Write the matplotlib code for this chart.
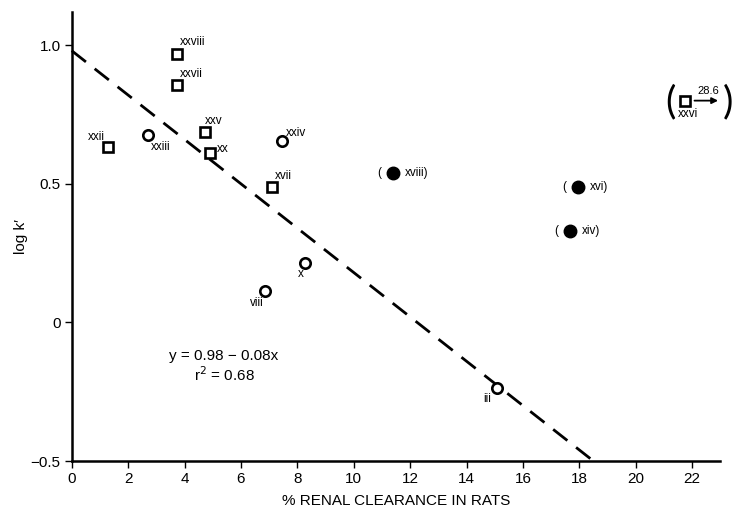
import matplotlib
matplotlib.use("Agg")
import matplotlib.pyplot as plt
from matplotlib.patches import FancyArrowPatch
from matplotlib.transforms import offset_copy
import numpy as np

plt.rcParams['font.family'] = ['Liberation Sans', 'DejaVu Sans']

# Data
sq_labels = ['xxviii', 'xxvii', 'xxii', 'xxv', 'xx', 'xvii']
sq_x = [3.72, 3.72, 1.28, 4.72, 4.89, 7.09]
sq_y = [0.968, 0.856, 0.632, 0.686, 0.61, 0.49]

oc_labels = ['xxiii', 'xxiv', 'x', 'viii', 'iii']
oc_x = [2.70, 7.45, 8.26, 6.84, 15.07]
oc_y = [0.675, 0.653, 0.213, 0.112, -0.238]

fc_labels = ['xviii', 'xvi', 'xiv']
fc_x = [11.38, 17.94, 17.66]
fc_y = [0.54, 0.487, 0.33]

out_label = 'xxvi'
out_x = 21.74
out_y = 0.80
out_value = '28.6'

fit_intercept = 0.98
fit_slope = -0.08
fit_xrange = [0.0, 18.45]

x_ticks = [0, 2, 4, 6, 8, 10, 12, 14, 16, 18, 20, 22]
y_ticks = [-0.5, 0, 0.5, 1.0]
y_ticklabels = ['\u22120.5', '0', '0.5', '1.0']

fig = plt.figure(figsize=(7.32, 5.18), dpi=100)
ax = fig.add_axes([0.098, 0.110, 0.886, 0.867])
ax.set_xlim(0, 23.0)
ax.set_ylim(-0.5, 1.12)

for s in ['top', 'right']:
    ax.spines[s].set_visible(False)
for s in ['left', 'bottom']:
    ax.spines[s].set_linewidth(1.8)

ax.set_xticks(x_ticks)
ax.set_yticks(y_ticks)
ax.set_yticklabels(y_ticklabels)
ax.tick_params(axis='both', direction='out', length=5, width=1.0, labelsize=11, pad=3)

# fit line
fx = np.array(fit_xrange)
ax.plot(fx, fit_intercept + fit_slope * fx, color='black', lw=2.0,
        dashes=(6.5, 4), clip_on=False)

ms = 7.5
ax.plot(sq_x, sq_y, 's', ms=ms, mfc='white', mec='black', mew=1.9, ls='none')
ax.plot(oc_x, oc_y, 'o', ms=ms, mfc='white', mec='black', mew=1.9, ls='none')
ax.plot(fc_x, fc_y, 'o', ms=9, mfc='black', mec='black', ls='none')
ax.plot([out_x], [out_y], 's', ms=ms, mfc='white', mec='black', mew=1.9, ls='none', clip_on=False)

fs = 8.5
sq_off = {'xxviii': (2, 4, 'left', 'bottom'), 'xxvii': (2, 4, 'left', 'bottom'),
          'xxii': (-2, 3, 'right', 'bottom'), 'xxv': (0, 4, 'left', 'bottom'),
          'xx': (5, -1, 'left', 'bottom'), 'xvii': (2, 3, 'left', 'bottom')}
for lab, x, y in zip(sq_labels, sq_x, sq_y):
    dx, dy, ha, va = sq_off[lab]
    ax.annotate(lab, (x, y), xytext=(dx, dy), textcoords='offset points',
                ha=ha, va=va, fontsize=fs)
oc_off = {'xxiii': (2, -4, 'left', 'top'), 'xxiv': (3, 2, 'left', 'bottom'),
          'x': (-1, -3, 'right', 'top'), 'viii': (-1, -4, 'right', 'top'),
          'iii': (-4, -3, 'right', 'top')}
for lab, x, y in zip(oc_labels, oc_x, oc_y):
    dx, dy, ha, va = oc_off[lab]
    ax.annotate(lab, (x, y), xytext=(dx, dy), textcoords='offset points',
                ha=ha, va=va, fontsize=fs)
for lab, x, y in zip(fc_labels, fc_x, fc_y):
    ax.annotate('(', (x, y), xytext=(-8, 0), textcoords='offset points',
                ha='right', va='center', fontsize=fs)
    ax.annotate(lab + ')', (x, y), xytext=(9, 0), textcoords='offset points',
                ha='left', va='center', fontsize=fs)

# outlier annotation (value off scale)
t0 = offset_copy(ax.transData, fig=fig, x=5, y=0, units='points')
t1 = offset_copy(ax.transData, fig=fig, x=26, y=0, units='points')
p0 = t0.transform((out_x, out_y))
p1 = t1.transform((out_x, out_y))
fig.patches.append(FancyArrowPatch(
    p0, p1, transform=None, arrowstyle='-|>', mutation_scale=9, lw=1.3, color='black'))
ax.annotate(out_value, (out_x, out_y), xytext=(9, 3), textcoords='offset points',
            ha='left', va='bottom', fontsize=8, annotation_clip=False)
ax.annotate(out_label, (out_x, out_y), xytext=(2, -5), textcoords='offset points',
            ha='center', va='top', fontsize=fs, annotation_clip=False)
paren_font = dict(family=['Lato', 'DejaVu Sans'], fontweight='normal', fontsize=28)
ax.annotate('(', (out_x, out_y), xytext=(-10, -1), textcoords='offset points',
            ha='center', va='center', annotation_clip=False, **paren_font)
ax.annotate(')', (out_x, out_y), xytext=(31, -1), textcoords='offset points',
            ha='center', va='center', annotation_clip=False, **paren_font)

# equation
ax.text(5.4, -0.12, 'y = 0.98 \u2212 0.08x', ha='center', va='center', fontsize=11)
ax.text(5.4, -0.19, 'r$^2$ = 0.68', ha='center', va='center', fontsize=11)

ax.set_xlabel('% RENAL CLEARANCE IN RATS', fontsize=11, labelpad=6)
ax.set_ylabel('log k\u2032', fontsize=11, labelpad=2)

fig.savefig('out.png', dpi=100)
